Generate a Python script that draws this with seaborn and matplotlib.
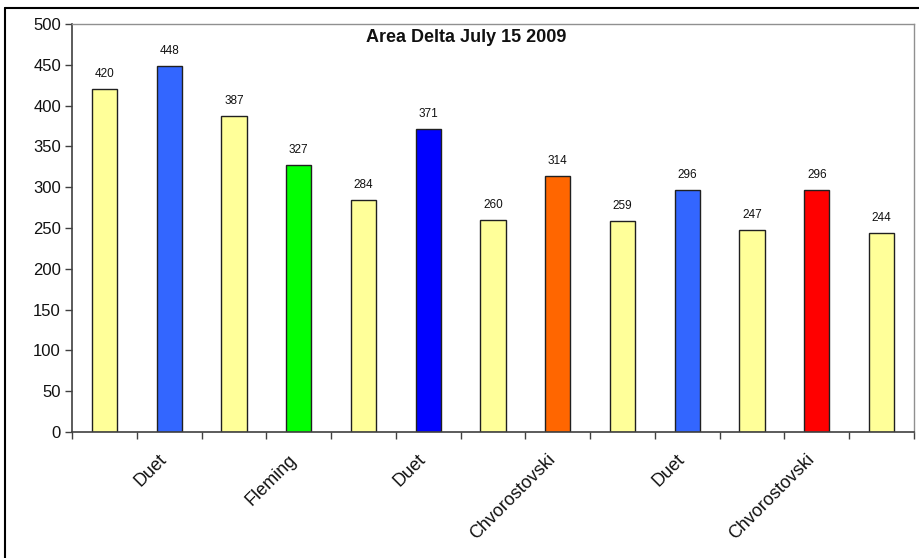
import matplotlib
matplotlib.use("Agg")
import matplotlib.pyplot as plt
import matplotlib.transforms as mtransforms
from matplotlib.lines import Line2D
import seaborn as sns
import numpy as np

values = [420, 448, 387, 327, 284, 371, 260, 314, 259, 296, 247, 296, 244]
names = ["", "Duet", "", "Fleming", "", "Duet", "", "Chvorostovski", "", "Duet", "", "Chvorostovski", ""]
colors = ["#FFFF99", "#3366FF", "#FFFF99", "#00FF00", "#FFFF99", "#0000FF", "#FFFF99",
          "#FF6600", "#FFFF99", "#3366FF", "#FFFF99", "#FF0000", "#FFFF99"]
title = "Area Delta July 15 2009"

sns.set_theme(style="white")
plt.rcParams["font.family"] = ["Liberation Sans", "DejaVu Sans"]

fig = plt.figure(figsize=(9.2, 5.58), dpi=100)
ax = fig.add_axes([72 / 920, 1 - 432 / 558, 842 / 920, 408 / 558])

pos = list(range(len(values)))
sns.barplot(x=pos, y=values, hue=pos, palette=colors, legend=False,
            width=0.39, edgecolor="#202020", linewidth=1.0, saturation=1, ax=ax)

for x, v in zip(pos, values):
    ax.annotate(str(v), (x, v), xytext=(0, 6.5), textcoords="offset points",
                ha="center", va="bottom", fontsize=8.5, color="#111111")

ax.set_xlim(-0.5, len(values) - 0.5)
ax.set_ylim(0, 500)
ax.set_yticks(np.arange(0, 501, 50))
ax.tick_params(axis="y", labelsize=12, length=5, width=1, color="#404040",
               direction="out", left=True, pad=3, labelcolor="#111111")

ax.set_xticks(pos)
ax.set_xticklabels(names, rotation=45, ha="right", va="center",
                   rotation_mode="anchor", fontsize=13, color="#111111")
ax.tick_params(axis="x", which="major", length=0, pad=18)
shift = mtransforms.ScaledTranslation(-5 / 100, 0, fig.dpi_scale_trans)
for lbl in ax.get_xticklabels():
    lbl.set_transform(lbl.get_transform() + shift)
ax.set_xticks(np.arange(-0.5, len(values), 1.0), minor=True)
ax.tick_params(axis="x", which="minor", length=5, width=1, color="#404040",
               direction="out", bottom=True)

for side in ["top", "right"]:
    ax.spines[side].set_color("#909090")
    ax.spines[side].set_linewidth(1)
for side in ["left", "bottom"]:
    ax.spines[side].set_color("#404040")
    ax.spines[side].set_linewidth(1.2)

ax.set_xlabel("")
ax.set_ylabel("")
ax.text(466 / 920, 1 - 37 / 558, title, transform=fig.transFigure, ha="center",
        va="center", fontsize=13, fontweight="bold", color="#111111")

# outer chart frame (left and top edges)
fig.add_artist(Line2D([5 / 920, 5 / 920], [0, 1 - 8 / 558], transform=fig.transFigure,
                      color="black", linewidth=1.5))
fig.add_artist(Line2D([5 / 920, 1], [1 - 8 / 558, 1 - 8 / 558], transform=fig.transFigure,
                      color="black", linewidth=1.5))

fig.savefig("out.png", dpi=100)
